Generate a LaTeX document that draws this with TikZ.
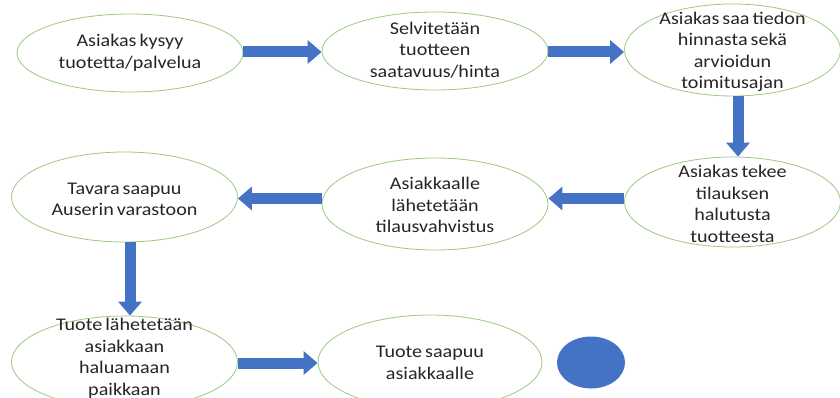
\documentclass[tikz,border=0pt]{standalone}
\usepackage{fontspec}
\setmainfont{Carlito}[FakeStretch=1.13]
\usetikzlibrary{shapes.geometric,arrows.meta}
\definecolor{elline}{HTML}{9DC983}
\definecolor{blk}{HTML}{4472C4}
\newcommand\mytxtfont{\fontsize{17.8}{21.5}\selectfont\spaceskip=3pt plus 1pt minus 0.5pt\relax}
\tikzset{
  ell/.style={ellipse,draw=elline,line width=0.8pt,fill=white,inner sep=0pt},
  txt/.style={align=center,inner sep=0pt,font=\mytxtfont,text=black!85},
  blockarrow/.style={draw=blk,line width=11pt,-{Triangle[width=23pt,length=14pt]}},
}
\begin{document}
\begin{tikzpicture}[x=1pt,y=-1pt]
\useasboundingbox (0,0) rectangle (840,398);
\fill[white] (0,0) rectangle (840,398);
\clip (0,0) rectangle (840,398);
% guide coordinates for arrow lines
\coordinate (r1) at (0,52);
\coordinate (r2) at (0,198.5);
\coordinate (r3) at (0,363);
\coordinate (c1) at (738,0);
\coordinate (c2) at (130,0);
% ellipses
\node[ell,minimum width=226,minimum height=78] (e1) at (130,53) {};
\node[ell,minimum width=226,minimum height=78] (e2) at (435,51) {};
\node[ell,minimum width=216,minimum height=92] (e3) at (732.5,50) {};
\node[ell,minimum width=216,minimum height=90] (e4) at (732.5,202) {};
\node[ell,minimum width=226,minimum height=92] (e5) at (435,204) {};
\node[ell,minimum width=226,minimum height=90] (e6) at (124.5,197) {};
\node[ell,minimum width=226,minimum height=92] (e7) at (124.5,362) {};
\node[ell,minimum width=224,minimum height=94] (e8) at (430,362) {};
\node[ellipse,fill=blk,minimum width=68,minimum height=52,inner sep=0pt] (dot) at (591,362.5) {};
% texts
\node[txt] (t1) at (130,53) {Asiakas kysyy\\tuotetta/palvelua};
\node[txt] (t2) at (435,50) {Selvitetään\\tuotteen\\saatavuus/hinta};
\node[txt] (t3) at (732.5,52) {Asiakas saa tiedon\\hinnasta sekä\\arvioidun\\toimitusajan};
\node[txt] (t4) at (732.5,204) {Asiakas tekee\\tilauksen\\halutusta\\tuotteesta};
\node[txt] (t5) at (435,205) {Asiakkaalle\\lähetetään\\tilausvahvistus};
\node[txt] (t6) at (124.5,199.5) {Tavara saapuu\\Auserin varastoon};
\node[txt] (t7) at (124.5,358.5) {Tuote lähetetään\\asiakkaan\\haluamaan\\paikkaan};
\node[txt] (t8) at (430,363) {Tuote saapuu\\asiakkaalle};
% arrows
\draw[blockarrow] (e1.east |- r1) -- (e2.west |- r1);
\draw[blockarrow] (e2.east |- r1) -- (e3.west |- r1);
\draw[blockarrow] (e3.south -| c1) -- (e4.north -| c1);
\draw[blockarrow] (e4.west |- r2) -- (e5.east |- r2);
\draw[blockarrow] (e5.west |- r2) -- (e6.east |- r2);
\draw[blockarrow] (e6.south -| c2) -- (e7.north -| c2);
\draw[blockarrow] (e7.east |- r3) -- (e8.west |- r3);
\end{tikzpicture}
\end{document}
